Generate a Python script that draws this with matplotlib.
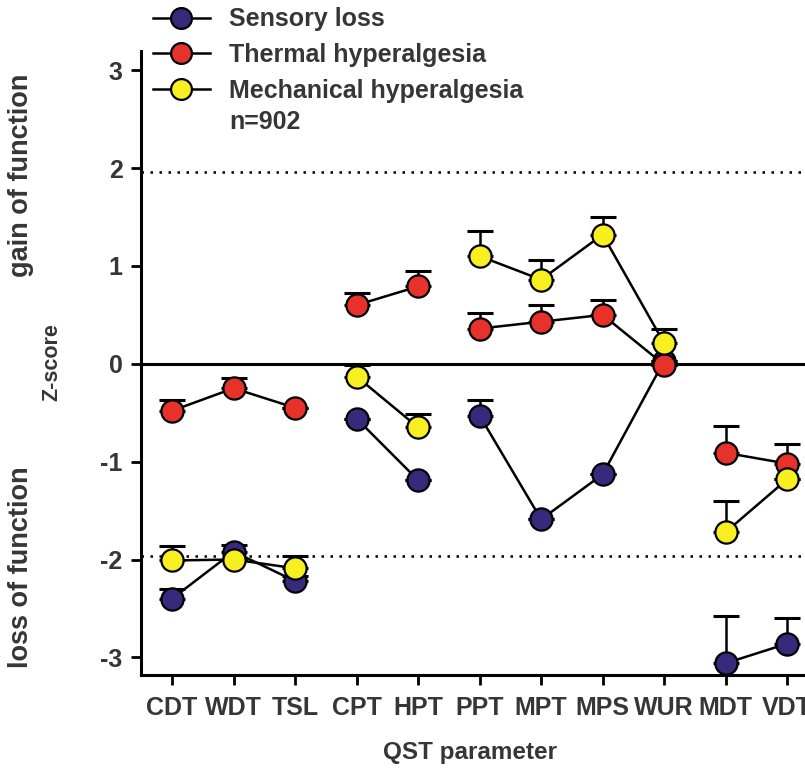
import numpy as np
import matplotlib.pyplot as plt

plt.rcParams['font.family'] = ['Liberation Sans', 'DejaVu Sans']
plt.rcParams['font.weight'] = 'bold'
plt.rcParams['axes.unicode_minus'] = False

# QST parameters and mean z-scores (with upper SEM) per cluster
params = ['CDT', 'WDT', 'TSL', 'CPT', 'HPT', 'PPT', 'MPT', 'MPS', 'WUR', 'MDT', 'VDT']
sensory = [-2.40, -1.92, -2.22, -0.56, -1.19, -0.53, -1.59, -1.13, 0.03, -3.06, -2.86]
sensory_err = [0.10, 0.07, 0.05, 0.0, 0.0, 0.16, 0.0, 0.0, 0.0, 0.48, 0.26]
thermal = [-0.48, -0.25, -0.45, 0.60, 0.79, 0.36, 0.43, 0.50, -0.01, -0.91, -1.02]
thermal_err = [0.11, 0.10, 0.0, 0.12, 0.16, 0.16, 0.17, 0.15, 0.0, 0.27, 0.20]
mechanical = [-2.01, -2.00, -2.09, -0.13, -0.65, 1.10, 0.86, 1.32, 0.21, -1.72, -1.18]
mechanical_err = [0.15, 0.0, 0.13, 0.12, 0.14, 0.26, 0.20, 0.18, 0.15, 0.32, 0.0]

# parameters are connected only within these groups
groups = [(0, 3), (3, 5), (5, 9), (9, 11)]

series = [
    ('Sensory loss', sensory, sensory_err, '#37297c'),
    ('Thermal hyperalgesia', thermal, thermal_err, '#e6322a'),
    ('Mechanical hyperalgesia', mechanical, mechanical_err, '#f8ef20'),
]

text_col = '#363636'
fig = plt.figure(figsize=(8.05, 7.73), dpi=100)
ax = fig.add_axes([0.1748, 0.1268, 0.8252, 0.8077])

x = np.arange(len(params))

ax.axhline(0, color='black', lw=2.2, zorder=1)
ax.axhline(1.96, color='black', lw=1.8, ls=(0, (1, 2.6)), zorder=1)
ax.axhline(-1.96, color='black', lw=1.8, ls=(0, (1, 2.6)), zorder=1)

for i, (name, vals, err, col) in enumerate(series):
    vals = np.array(vals)
    err = np.array(err)
    ax.errorbar(x, vals, yerr=[np.zeros_like(err), err], fmt='none',
                ecolor='black', elinewidth=1.8, capsize=9.5, capthick=2.2,
                zorder=2 + i * 2)
    for a, b in groups:
        ax.plot(x[a:b], vals[a:b], color='black', lw=1.8, zorder=2 + i * 2)
    ax.plot(x, vals, ls='none', marker='o', ms=16, mfc=col,
            mec='black', mew=1.6, zorder=3 + i * 2)

ax.set_xlim(-0.51, 10.29)
ax.set_ylim(-3.18, 3.2)
ax.set_xticks(x)
ax.set_xticklabels(params)
ax.set_yticks([-3, -2, -1, 0, 1, 2, 3])
ax.tick_params(axis='both', direction='out', length=7, width=2,
               labelsize=18, labelcolor=text_col, color='black')
ax.tick_params(axis='x', pad=8)
ax.tick_params(axis='y', pad=6)

for s in ['top', 'right']:
    ax.spines[s].set_visible(False)
for s in ['left', 'bottom']:
    ax.spines[s].set_linewidth(2.2)

# legend (drawn with black connector lines like the figure)
leg_handles = []
for name, vals, err, col in series:
    l, = ax.plot([], [], color='black', lw=1.8, marker='o', ms=15,
                 mfc=col, mec='black', mew=1.6)
    leg_handles.append(l)
leg = fig.legend(leg_handles, [s[0] for s in series], loc='upper left',
                 bbox_to_anchor=(0.168, 1.013), frameon=False, fontsize=18,
                 handlelength=2.3, handletextpad=0.75, labelspacing=0.47,
                 borderpad=0.2)
for t in leg.get_texts():
    t.set_color(text_col)
fig.text(229 / 805, 1 - 122 / 773, 'n=902', fontsize=18, color=text_col,
         ha='left', va='center')

fig.text(470 / 805, 1 - 752 / 773, 'QST parameter', fontsize=17.5,
         color=text_col, ha='center', va='center')
fig.text(52 / 805, 1 - 362 / 773, 'Z-score', fontsize=15.5, color=text_col,
         rotation=90, ha='center', va='center')
fig.text(21 / 805, 1 - 175 / 773, 'gain of function', fontsize=19.5,
         color=text_col, rotation=90, ha='center', va='center')
fig.text(21 / 805, 1 - 567 / 773, 'loss of function', fontsize=19.5,
         color=text_col, rotation=90, ha='center', va='center')

plt.savefig('out.png', dpi=100)
